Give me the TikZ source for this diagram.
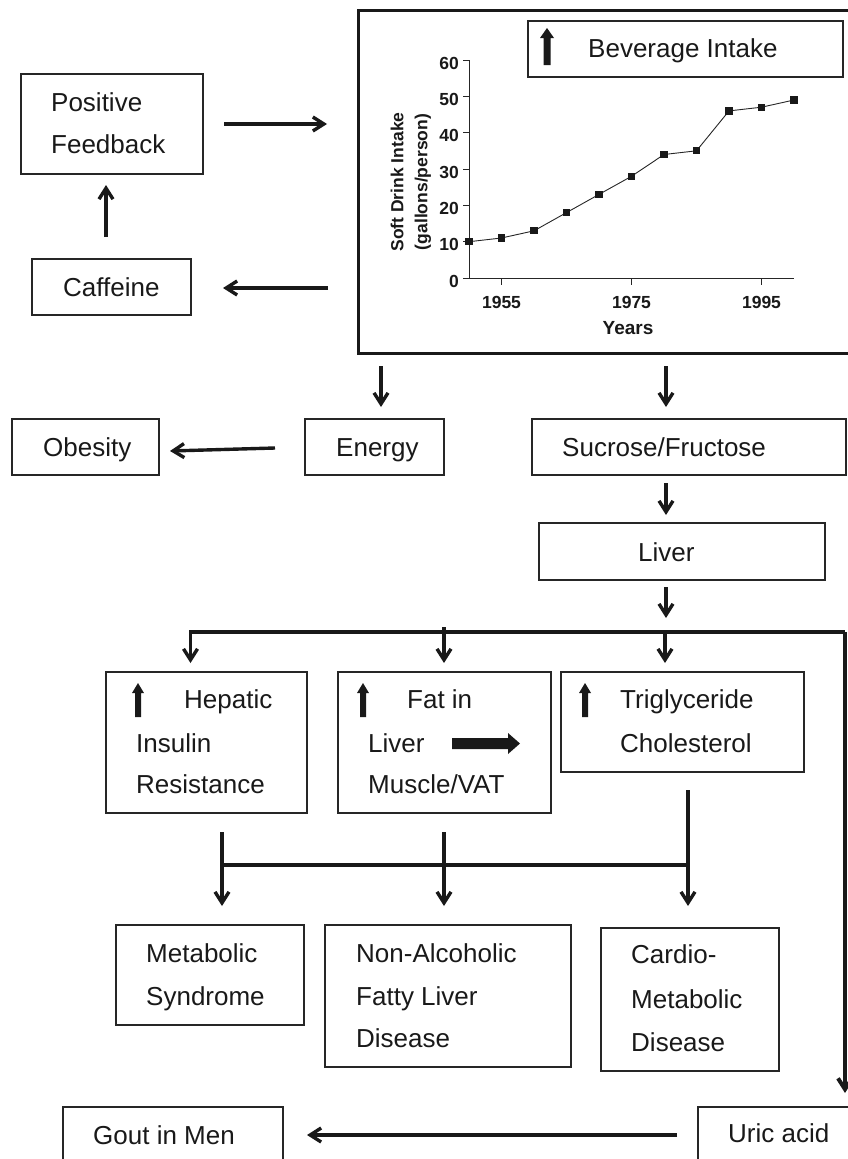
\documentclass[tikz,border=0pt]{standalone}
\usepackage{fontspec}
\setmainfont{Liberation Sans}
\usetikzlibrary{arrows.meta}
\newcommand{\mybox}[5]{\node[box,inner sep=0pt,minimum width={(#4-#2)*1pt},minimum height={(#5-#3)*1pt}] (#1) at ({(#2+#4)/2},{(#3+#5)/2}) {};}
\begin{document}
\begin{tikzpicture}[x=1pt,y=-1pt,
  box/.style={draw=black!85,line width=1.1pt},
  txt/.style={anchor=base west,inner sep=0pt,font=\fontsize{26}{30}\selectfont,text=black!90},
  arr/.style={line width=3.4pt,draw=black!90,-{Straight Barb[length=11pt,width=14pt]}},
  ln/.style={line width=3.4pt,draw=black!90},
  ax/.style={line width=1pt,draw=black!85},
  lab/.style={font=\bfseries\fontsize{17.5}{20}\selectfont,inner sep=0pt,text=black!90},
  icon/.style={fill=black!90}]
\useasboundingbox (0,0) rectangle (848,1159);
\clip (0,0) rectangle (848,1159);

% ---------- boxes ----------
\node[draw=black!90,line width=3pt,inner sep=0pt,minimum width=520pt,minimum height=343pt] (big) at (618,181.5) {};
\mybox{bev}{528}{21}{843}{77}
\mybox{pf}{21}{74}{203}{174}
\mybox{caf}{32}{259}{191}{315}
\mybox{obe}{12}{419}{159}{475}
\mybox{ene}{305}{419}{444}{475}
\mybox{suc}{532}{419}{846}{475}
\mybox{liv}{539}{523}{825}{580}
\mybox{hep}{106}{672}{307}{813}
\mybox{fat}{338}{672}{551}{813}
\mybox{tri}{561}{672}{804}{772}
\mybox{met}{116}{925}{304}{1025}
\mybox{naf}{325}{925}{571}{1067}
\mybox{cmd}{601}{928}{779}{1071}
\mybox{gout}{63}{1107}{283}{1175}
\mybox{uric}{698}{1107}{870}{1175}

% ---------- texts ----------
\node[txt] (tbev) at (588,57) {Beverage Intake};
\node[txt] (tpf1) at (51,111) {Positive};
\node[txt] (tpf2) at (51,153) {Feedback};
\node[txt] (tcaf) at (63,296) {Caffeine};
\node[txt] (tobe) at (43,456) {Obesity};
\node[txt] (tene) at (336,456) {Energy};
\node[txt] (tsuc) at (562,456) {Sucrose/Fructose};
\node[txt] (tliv) at (638,561) {Liver};
\node[txt] (thep1) at (184,708) {Hepatic};
\node[txt] (thep2) at (136,752) {Insulin};
\node[txt] (thep3) at (136,793) {Resistance};
\node[txt] (tfat1) at (407,708) {Fat in};
\node[txt] (tfat2) at (368,752) {Liver};
\node[txt] (tfat3) at (368,793) {Muscle/VAT};
\node[txt] (ttri1) at (620,708) {Triglyceride};
\node[txt] (ttri2) at (620,752) {Cholesterol};
\node[txt] (tmet1) at (146,962) {Metabolic};
\node[txt] (tmet2) at (146,1005) {Syndrome};
\node[txt] (tnaf1) at (356,962) {Non-Alcoholic};
\node[txt] (tnaf2) at (356,1005) {Fatty Liver};
\node[txt] (tnaf3) at (356,1047) {Disease};
\node[txt] (tcmd1) at (631,963) {Cardio-};
\node[txt] (tcmd2) at (631,1008) {Metabolic};
\node[txt] (tcmd3) at (631,1051) {Disease};
\node[txt] (tgout) at (93,1144) {Gout in Men};
\node[txt] (turic) at (728,1142) {Uric acid};

% ---------- thick icon arrows ----------
\fill[icon] (543.5,65) -- (543.5,38) -- (540,38) -- (547,28) -- (554,38) -- (550.5,38) -- (550.5,65) -- cycle;
\foreach \cx in {138,363,585}{
  \fill[icon] ({\cx-3},717) -- ({\cx-3},693) -- ({\cx-6},693) -- (\cx,683) -- ({\cx+6},693) -- ({\cx+3},693) -- ({\cx+3},717) -- cycle;
}
\fill[icon] (452,738) -- (508,738) -- (508,733) -- (520,743.5) -- (508,754) -- (508,749) -- (452,749) -- cycle;

% ---------- chart ----------
\draw[ax] (469,60) -- (469,278) -- (794,278);
\foreach \v in {0,10,...,60}{
  \draw[ax] (463,{278-\v*3.633}) -- (469,{278-\v*3.633});
  \node[lab,anchor=east] (yl\v) at (459,{281-\v*3.633}) {\v};
}
\foreach \yr/\xx in {1955/501.5,1975/631.5,1995/761.5}{
  \draw[ax] (\xx,278) -- (\xx,285);
  \node[lab] (xl\yr) at (\xx,302) {\yr};
}
\node[lab,font=\bfseries\fontsize{19}{22}\selectfont] (years) at (628,328) {Years};
\node[lab,rotate=90] (ylab1) at (397,182) {Soft Drink Intake};
\node[lab,rotate=90] (ylab2) at (423,182) {(gallons/person)};
\draw[line width=0.9pt,draw=black!85] (469,241.7) -- (501.5,238.0) -- (534,230.8) -- (566.5,212.6) -- (599,194.4) -- (631.5,176.3) -- (664,154.5) -- (696.5,150.8) -- (729,110.9) -- (761.5,107.2) -- (794,100.0);
\foreach \px/\py in {469/241.7,501.5/238.0,534/230.8,566.5/212.6,599/194.4,631.5/176.3,664/154.5,696.5/150.8,729/110.9,761.5/107.2,794/100.0}{
  \fill[black!90] ({\px-3.6},{\py-3.6}) rectangle ({\px+3.6},{\py+3.6});
}

% ---------- connector coordinates ----------
\coordinate (a1s) at (224,124);  \coordinate (a1e) at (327,124);
\coordinate (a2s) at (328,288);  \coordinate (a2e) at (223,288);
\coordinate (a3s) at (106,237);  \coordinate (a3e) at (106,185);
\coordinate (a4s) at (275,448);  \coordinate (a4e) at (170,451);
\coordinate (a5s) at (381,366);  \coordinate (a5e) at (381,407);
\coordinate (a6s) at (666,366);  \coordinate (a6e) at (666,407);
\coordinate (a7s) at (666,483);  \coordinate (a7e) at (666,515);
\coordinate (a8s) at (666,587);  \coordinate (a8e) at (666,618);
\coordinate (busL) at (189,632); \coordinate (busR) at (845,632);
\coordinate (uricIn) at (845,1093);
\coordinate (hepTop) at (190.5,632); \coordinate (hepIn) at (190.5,663);
\coordinate (fatTop) at (444,627); \coordinate (fatIn) at (444,663);
\coordinate (triTop) at (665,632); \coordinate (triIn) at (665,663);
\coordinate (hepOut) at (222,832); \coordinate (fatOut) at (444,832); \coordinate (triOut) at (688,790);
\coordinate (barL) at (222,865); \coordinate (barM) at (444,865); \coordinate (barR) at (688,865);
\coordinate (metIn) at (222,906); \coordinate (nafIn) at (444,906); \coordinate (cmdIn) at (688,906);
\coordinate (g1s) at (677,1135); \coordinate (g1e) at (307,1135);

% ---------- connectors ----------
\draw[arr] (a1s) -- (a1e);
\draw[arr] (a2s) -- (a2e);
\draw[arr] (a3s) -- (a3e);
\draw[arr] (a4s) -- (a4e);
\draw[arr] (a5s) -- (a5e);
\draw[arr] (a6s) -- (a6e);
\draw[arr] (a7s) -- (a7e);
\draw[arr] (a8s) -- (a8e);
\draw[ln,line width=4pt] (busL) -- (busR);
\draw[arr,line width=4pt] (busR) -- (uricIn);
\draw[arr] (hepTop) -- (hepIn);
\draw[arr] (fatTop) -- (fatIn);
\draw[arr] (triTop) -- (triIn);
\draw[ln] (hepOut) -- (barL);
\draw[ln] (fatOut) -- (barM);
\draw[ln] (triOut) -- (barR);
\draw[ln,line width=4pt] (barL) -- (barR);
\draw[arr] (barL) -- (metIn);
\draw[arr] (barM) -- (nafIn);
\draw[arr] (barR) -- (cmdIn);
\draw[arr] (g1s) -- (g1e);
\end{tikzpicture}
\end{document}
